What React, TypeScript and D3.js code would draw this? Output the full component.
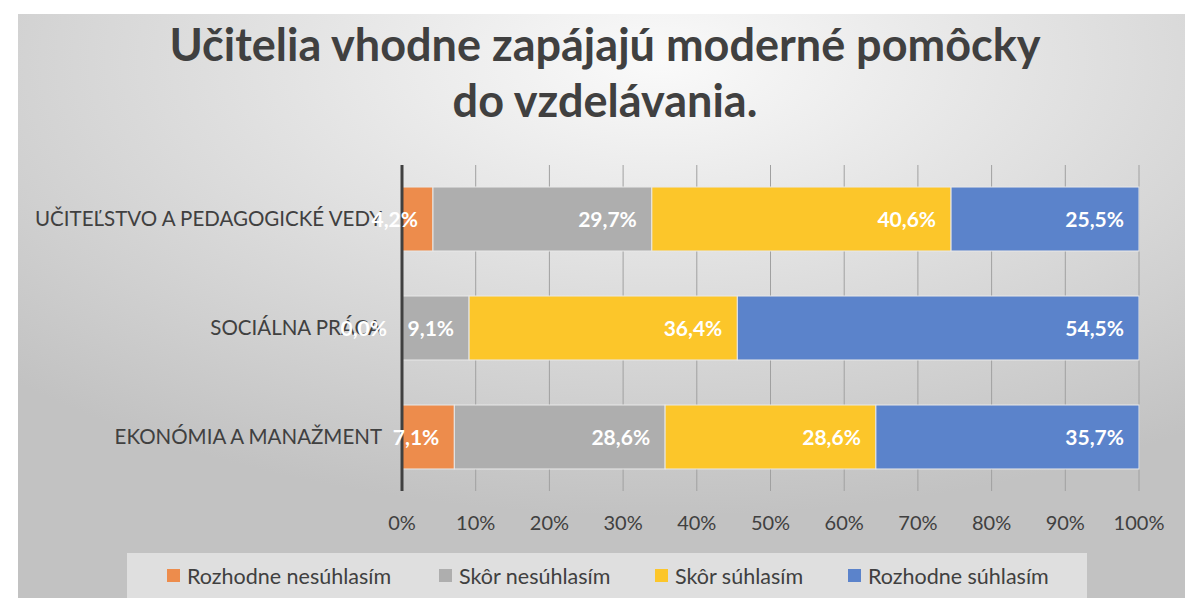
import React from 'react';
import * as d3 from 'd3';

const categories = ['UČITEĽSTVO A PEDAGOGICKÉ VEDY', 'SOCIÁLNA PRÁCA', 'EKONÓMIA A MANAŽMENT'];
const seriesNames = ['Rozhodne nesúhlasím', 'Skôr nesúhlasím', 'Skôr súhlasím', 'Rozhodne súhlasím'];
const seriesColors = ['#ED8C4C', '#AEAEAE', '#FCC62A', '#5B83CB'];
const rozhodneNesuhlasim = [4.2, 0.0, 7.1];
const skorNesuhlasim = [29.7, 9.1, 28.6];
const skorSuhlasim = [40.6, 36.4, 28.6];
const rozhodneSuhlasim = [25.5, 54.5, 35.7];
const xTicks = [0, 10, 20, 30, 40, 50, 60, 70, 80, 90, 100];
const titleLines = ['Učitelia vhodne zapájajú moderné pomôcky', 'do vzdelávania.'];

const W = 1185;
const H = 598;
const font = 'Lato, "Open Sans", sans-serif';

export default function App() {
  const x = d3.scaleLinear().domain([0, 100]).range([402, 1139]);
  const y = d3.scaleBand().domain(categories).range([165, 491]).paddingInner(0.413).paddingOuter(0.202);

  const rows = categories.map((c, i) => ({
    cat: c,
    vals: [rozhodneNesuhlasim[i], skorNesuhlasim[i], skorSuhlasim[i], rozhodneSuhlasim[i]],
  }));
  const stack = d3.stack<any>().keys(['0', '1', '2', '3']).value((d, k) => d.vals[+k]);
  const layers = stack(rows);

  const fmt = (v: number) => v.toFixed(1).replace('.', ',') + '%';
  // legend swatch positions (text starts 20px to the right)
  const legendX = [167, 439, 655, 848];

  return (
    <svg width={W} height={H} style={{ position: 'absolute', left: 0, top: 0 }}>
      <defs>
        <radialGradient id="bg" cx="0.55" cy="0.08" r="0.78" gradientUnits="objectBoundingBox">
          <stop offset="0" stopColor="#fafafa" />
          <stop offset="1" stopColor="#c2c2c2" />
        </radialGradient>
      </defs>
      <rect x={0} y={0} width={W} height={H} fill="#fff" />
      <rect x={18} y={14} width={W - 18} height={H - 14} fill="url(#bg)" />

      {titleLines.map((t, i) => (
        <text key={t} x={605} y={61 + i * 56} textAnchor="middle" fontFamily={font} fontWeight={700}
          fontSize={45} fill="#404040">{t}</text>
      ))}

      {xTicks.map(t => (
        <line key={t} x1={x(t)} x2={x(t)} y1={165} y2={491} stroke="#a0a0a0" strokeWidth={1} />
      ))}

      {layers.map((layer, si) => layer.map((d, ri) => (
        <rect key={si + '-' + ri} x={x(d[0])} y={y(categories[ri])} width={Math.max(0, x(d[1]) - x(d[0]))}
          height={y.bandwidth()} fill={seriesColors[si]} stroke="#e8e8e8" strokeWidth={1} />
      )))}

      <line x1={x(0)} x2={x(0)} y1={165} y2={491} stroke="#404040" strokeWidth={3} />

      {categories.map(c => (
        <text key={c} x={382} y={(y(c) as number) + y.bandwidth() / 2} dy="0.36em" textAnchor="end"
          fontFamily={font} fontSize={20.5} fill="#404040">{c}</text>
      ))}

      {layers.map((layer, si) => layer.map((d, ri) => (
        <text key={'l' + si + '-' + ri} x={x(d[1]) - 15} y={(y(categories[ri]) as number) + y.bandwidth() / 2}
          dy="0.36em" textAnchor="end" fontFamily={font} fontWeight={700} fontSize={21} fill="#fff">
          {fmt(d[1] - d[0])}
        </text>
      )))}

      {xTicks.map(t => (
        <text key={'t' + t} x={x(t)} y={523} dy="0.36em" textAnchor="middle" fontFamily={font}
          fontSize={20} fill="#404040">{t + '%'}</text>
      ))}

      <rect x={127} y={553} width={960} height={50} fill="#e4e4e4" opacity={0.85} />
      {seriesNames.map((s, i) => (
        <g key={s}>
          <rect x={legendX[i]} y={569} width={13} height={13} fill={seriesColors[i]} />
          <text x={legendX[i] + 20} y={576} dy="0.36em" fontFamily={font} fontSize={21.5} fill="#404040">{s}</text>
        </g>
      ))}
    </svg>
  );
}
